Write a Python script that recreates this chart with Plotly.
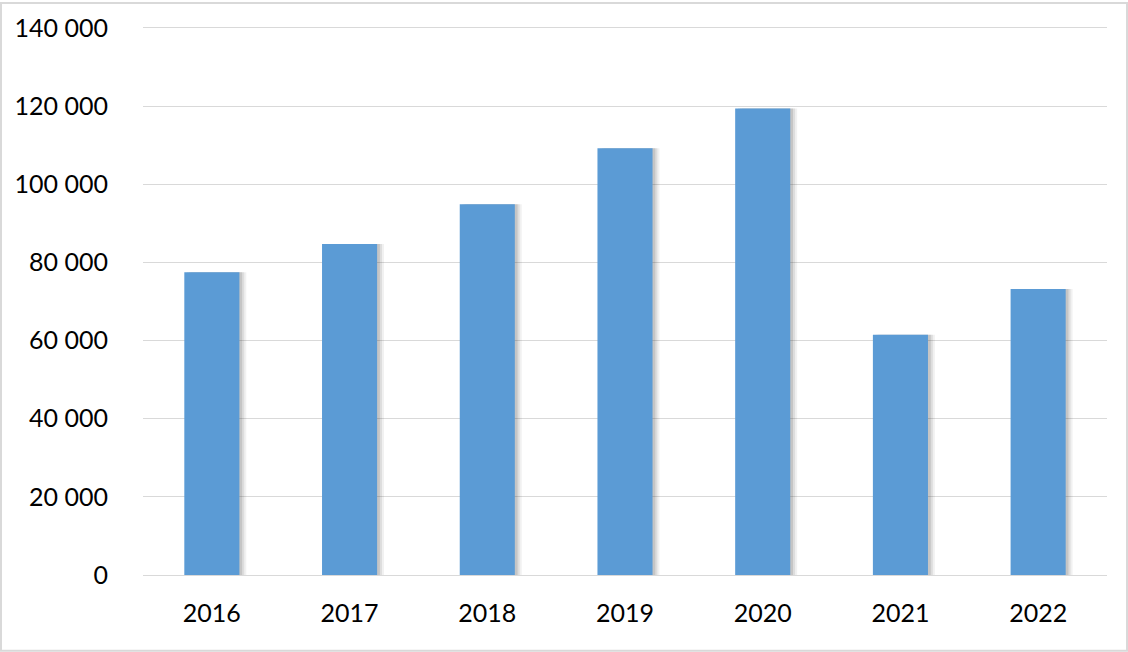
import plotly.graph_objects as go

years = ["2016", "2017", "2018", "2019", "2020", "2021", "2022"]
values = [77500, 84700, 94900, 109200, 119400, 61500, 73200]
y_ticks = [0, 20000, 40000, 60000, 80000, 100000, 120000, 140000]

W, H = 1128, 652
L, R, T, B = 143, 21, 22, 77
pw, ph = W - L - R, H - T - B
y_top = 140000 * ph / 549

fig = go.Figure()
# soft shadow layers
for off, alpha in [(0.05, 0.07), (0.035, 0.11), (0.02, 0.15)]:
    fig.add_trace(go.Bar(x=years, y=values, width=0.4, offset=-0.2 + off,
                         marker=dict(color=f"rgba(60,60,60,{alpha})", line=dict(width=0)),
                         hoverinfo="skip", showlegend=False))
fig.add_trace(go.Bar(x=years, y=values, width=0.4, offset=-0.2,
                     marker=dict(color="#5B9BD5", line=dict(width=0)),
                     showlegend=False))

fig.update_layout(
    width=W, height=H, barmode="overlay",
    margin=dict(l=L, r=R, t=T, b=B, pad=0),
    paper_bgcolor="white", plot_bgcolor="white",
    separators=". ",
    font=dict(family="Lato, Carlito, sans-serif", size=25, color="#000000"),
    xaxis=dict(showgrid=False, showline=False, ticks="", ticklabelstandoff=21,
               tickfont=dict(size=25)),
    yaxis=dict(range=[0, y_top], tickvals=y_ticks, tickformat=",d",
               showgrid=True, gridcolor="#d9d9d9", gridwidth=1.3,
               zeroline=True, zerolinecolor="#d9d9d9", zerolinewidth=1.3,
               showline=False, ticks="", ticklabelstandoff=34,
               tickfont=dict(size=25)),
    shapes=[dict(type="rect", xref="paper", yref="paper",
                 x0=(1 - L) / pw, x1=(W - L - 1) / pw,
                 y0=-(B - 1) / ph, y1=(H - B - 1) / ph,
                 line=dict(color="#d9d9d9", width=2), layer="above")],
)

fig.write_html("out.html", config={"displayModeBar": False},
               post_script="document.body.style.margin='0';document.body.style.overflow='hidden';")
